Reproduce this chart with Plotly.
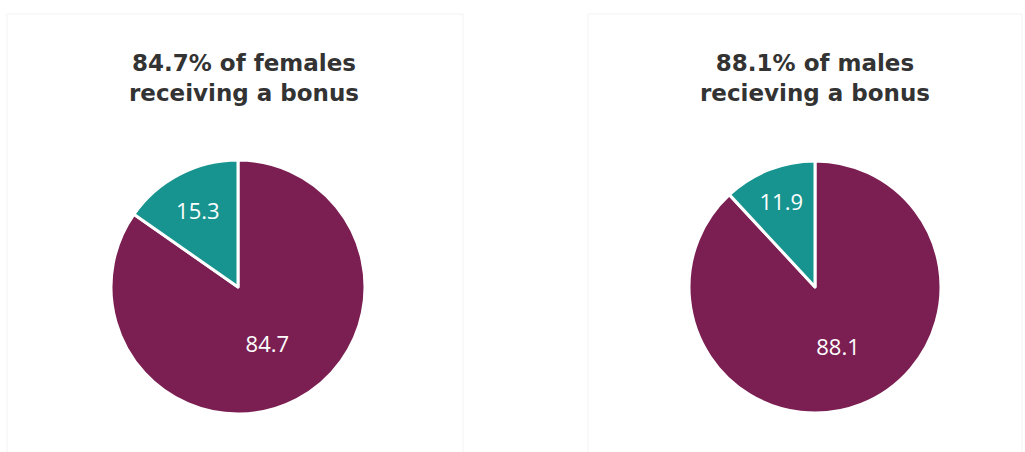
import plotly.graph_objects as go

# Data
categories = ["Receiving a bonus", "Not receiving a bonus"]
female_values = [84.7, 15.3]
male_values = [88.1, 11.9]
titles = ["84.7% of females<br>receiving a bonus", "88.1% of males<br>recieving a bonus"]

MAROON = "#7B1F52"
TEAL = "#17948F"

W, H = 1025, 452

def dom(cx, cy, r):
    return dict(x=[(cx - r) / W, (cx + r) / W],
                y=[(H - cy - r) / H, (H - cy + r) / H])

fig = go.Figure()
for vals, d in [(female_values, dom(238, 287, 127)), (male_values, dom(815, 287, 126))]:
    fig.add_trace(go.Pie(
        labels=categories, values=vals, sort=False, direction="clockwise", rotation=0,
        marker=dict(colors=[MAROON, TEAL], line=dict(color="white", width=3)),
        textinfo="value", textposition="inside", insidetextorientation="horizontal",
        textfont=dict(family="Open Sans", size=22, color="white"),
        domain=d, showlegend=False, hoverinfo="label+value",
    ))

for t, cx in zip(titles, [244, 815]):
    fig.add_annotation(text=t, x=cx / W, y=(H - 78) / H, xref="paper", yref="paper",
                       xanchor="center", yanchor="middle", showarrow=False,
                       font=dict(family="DejaVu Sans", size=23, color="#333333", weight="bold"))

# faint panel frames
for x0, x1 in [(7, 463), (588, 1022)]:
    fig.add_shape(type="rect", xref="paper", yref="paper",
                  x0=x0 / W, x1=x1 / W, y0=-0.05, y1=(H - 14) / H,
                  line=dict(color="#f7f7f7", width=1.5), layer="below")

fig.update_layout(width=W, height=H, margin=dict(l=0, r=0, t=0, b=0),
                  paper_bgcolor="white", plot_bgcolor="white")
fig.write_html("out.html")
